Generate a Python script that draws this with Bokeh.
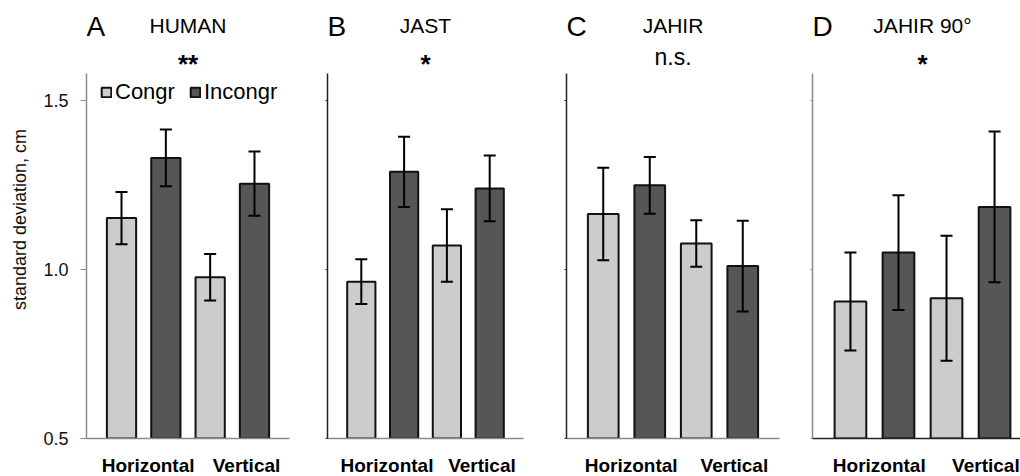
import numpy as np
from bokeh.plotting import figure
from bokeh.layouts import row
from bokeh.models import (ColumnDataSource, Range1d, FixedTicker, NumeralTickFormatter,
                          Whisker, TeeHead, Label, Legend, LegendItem)
from bokeh.transform import dodge
from bokeh.embed import file_html
from bokeh.resources import INLINE

# ---------------- data ----------------
categories = ["Horizontal", "Vertical"]
series_names = ["Congr", "Incongr"]
panel_letters = ["A", "B", "C", "D"]
panel_titles = ["HUMAN", "JAST", "JAHIR", "JAHIR 90°"]
significance = ["**", "*", "n.s.", "*"]

human_congr = [1.152, 0.977]
human_congr_se = [0.077, 0.069]
human_incongr = [1.330, 1.254]
human_incongr_se = [0.084, 0.095]

jast_congr = [0.964, 1.071]
jast_congr_se = [0.066, 0.107]
jast_incongr = [1.289, 1.240]
jast_incongr_se = [0.104, 0.097]

jahir_congr = [1.164, 1.077]
jahir_congr_se = [0.137, 0.069]
jahir_incongr = [1.249, 1.010]
jahir_incongr_se = [0.084, 0.134]

jahir90_congr = [0.905, 0.915]
jahir90_congr_se = [0.145, 0.185]
jahir90_incongr = [1.050, 1.185]
jahir90_incongr_se = [0.170, 0.223]

y_ticks = [0.5, 1.0, 1.5]
y_axis_top = 1.58
y_axis_label = "standard deviation, cm"

# ---------------- style / layout ----------------
FONT = "Liberation Sans"
Y_START = 0.5
PX_PER_UNIT = 338.0
FRAME_BOTTOM = 438          # canvas pixel of the 0.5 baseline
FRAME_H = FRAME_BOTTOM      # frame reaches the top of the canvas (titles live inside)
Y_END = Y_START + FRAME_H / PX_PER_UNIT
BORDER_BOTTOM = 38
X_START, X_END = -0.645, 1.645
OFFSET = 0.25
BAR_W = 0.33
LABEL_SHIFT = [0.05, 0.16]  # category-label placement relative to the bar groups
LIGHT = "#cccccc"
DARK = "#565656"
EDGE = "#111111"
# (border_left, frame_width, border_right, full_frame_width, y-axis colour, x-axis colour)
LAYOUT = [
    (86, 203, 11, 203, "#8a8a8a", "#8a8a8a"),
    (27, 196, 17, 196, "#222222", "#8a8a8a"),
    (26, 213, 11, 213, "#222222", "#8a8a8a"),
    (22, 208, 0, 220, "#8a8a8a", "#222222"),
]
BASELINE_SHIFT = 0.38   # label baseline correction (fraction of font size)


def y_at(canvas_y):
    return Y_START + (FRAME_BOTTOM - canvas_y) / PX_PER_UNIT


def text_y(baseline_px, font_px):
    return y_at(baseline_px - BASELINE_SHIFT * font_px)


def make_panel(i, congr, congr_se, incongr, incongr_se):
    bl, fw, br, full_w, ycol, xcol = LAYOUT[i]
    x_end = X_START + (X_END - X_START) * fw / full_w
    p = figure(frame_width=fw, frame_height=FRAME_H,
               min_border_left=bl, min_border_right=br,
               min_border_top=0, min_border_bottom=BORDER_BOTTOM,
               x_range=Range1d(X_START, x_end), y_range=Range1d(Y_START, Y_END),
               toolbar_location=None, output_backend="svg", tools="",
               outline_line_color=None, background_fill_color="white",
               border_fill_color="white")
    p.grid.visible = False

    x = list(range(len(categories)))
    c = np.array(congr); cs = np.array(congr_se)
    n = np.array(incongr); ns = np.array(incongr_se)
    src = ColumnDataSource(dict(
        x=x, congr=c, congr_lo=c - cs, congr_hi=c + cs,
        incongr=n, incongr_lo=n - ns, incongr_hi=n + ns))

    r1 = p.vbar(x=dodge("x", -OFFSET, range=p.x_range), top="congr", bottom=Y_START,
                width=BAR_W, source=src, fill_color=LIGHT, line_color=EDGE, line_width=2)
    r2 = p.vbar(x=dodge("x", OFFSET, range=p.x_range), top="incongr", bottom=Y_START,
                width=BAR_W, source=src, fill_color=DARK, line_color=EDGE, line_width=2)

    for off, lo, hi in ((-OFFSET, "congr_lo", "congr_hi"), (OFFSET, "incongr_lo", "incongr_hi")):
        w = Whisker(base=dodge("x", off, range=p.x_range), lower=lo, upper=hi, source=src,
                    line_color="black", line_width=2, level="overlay",
                    upper_head=TeeHead(size=12, line_width=2, line_color="black"),
                    lower_head=TeeHead(size=12, line_width=2, line_color="black"))
        p.add_layout(w)

    # x axis: category labels
    tick_pos = [k + s for k, s in zip(x, LABEL_SHIFT)]
    xa = p.xaxis[0]
    xa.ticker = FixedTicker(ticks=tick_pos)
    xa.major_label_overrides = {t: cat for t, cat in zip(tick_pos, categories)}
    xa.major_tick_line_color = None
    xa.major_tick_out = 0
    xa.major_tick_in = 0
    xa.minor_tick_line_color = None
    xa.axis_line_color = xcol
    xa.axis_line_width = 1.5
    xa.major_label_text_font = FONT
    xa.major_label_text_font_style = "bold"
    xa.major_label_text_font_size = "19px"
    xa.major_label_text_color = "black"
    xa.major_label_standoff = 16

    # y axis (line limited to the data area)
    ya = p.yaxis[0]
    ya.bounds = (Y_START, y_axis_top)
    ya.axis_line_color = ycol
    ya.axis_line_width = 1.5
    if i == 0:
        ya.ticker = FixedTicker(ticks=y_ticks)
        ya.formatter = NumeralTickFormatter(format="0.0")
        ya.major_tick_in = 0
        ya.major_tick_out = 6
        ya.major_tick_line_color = ycol
        ya.minor_tick_line_color = None
        ya.major_label_text_font = FONT
        ya.major_label_text_font_size = "18px"
        ya.major_label_text_color = "#111111"
        ya.major_label_standoff = 12
        ya.axis_label = y_axis_label
        ya.axis_label_text_font = FONT
        ya.axis_label_text_font_style = "normal"
        ya.axis_label_text_font_size = "18px"
        ya.axis_label_text_color = "#111111"
        ya.axis_label_standoff = 10
    else:
        # unlabelled panels: tiny tick marks only
        ya.ticker = FixedTicker(ticks=[], minor_ticks=y_ticks)
        ya.major_tick_line_color = None
        ya.major_tick_out = 0
        ya.minor_tick_in = 0
        ya.minor_tick_out = 2
        ya.minor_tick_line_color = ycol

    # titles
    p.add_layout(Label(x=X_START, y=text_y(36.7, 28), text=panel_letters[i],
                       text_font=FONT, text_font_size="28px", text_color="black",
                       text_align="left", text_baseline="alphabetic"))
    p.add_layout(Label(x=0.5, y=text_y(33.3, 21), text=panel_titles[i],
                       text_font=FONT, text_font_size="21px", text_color="black",
                       text_align="center", text_baseline="alphabetic"))
    sig = significance[i]
    if sig.strip("*") == "":
        sig_fs, sig_style, sig_base = 26, "bold", 73.6
    else:
        sig_fs, sig_style, sig_base = 23, "normal", 65.5
    p.add_layout(Label(x=0.5, y=text_y(sig_base, sig_fs), text=sig,
                       text_font=FONT, text_font_size=f"{sig_fs}px",
                       text_font_style=sig_style, text_color="black",
                       text_align="center", text_baseline="alphabetic"))

    if i == 0:
        legend = Legend(items=[LegendItem(label=series_names[0], renderers=[r1]),
                               LegendItem(label=series_names[1], renderers=[r2])],
                        orientation="horizontal", location=(14, 333),
                        border_line_color=None, background_fill_alpha=0,
                        label_text_font=FONT, label_text_font_size="22px",
                        label_text_color="black",
                        glyph_width=12, glyph_height=12, label_standoff=3,
                        spacing=14, padding=0, margin=0)
        p.add_layout(legend)
    return p


panels = [
    make_panel(0, human_congr, human_congr_se, human_incongr, human_incongr_se),
    make_panel(1, jast_congr, jast_congr_se, jast_incongr, jast_incongr_se),
    make_panel(2, jahir_congr, jahir_congr_se, jahir_incongr, jahir_incongr_se),
    make_panel(3, jahir90_congr, jahir90_congr_se, jahir90_incongr, jahir90_incongr_se),
]

layout = row(*panels, spacing=0)
open("out.html", "w").write(file_html(layout, INLINE))
